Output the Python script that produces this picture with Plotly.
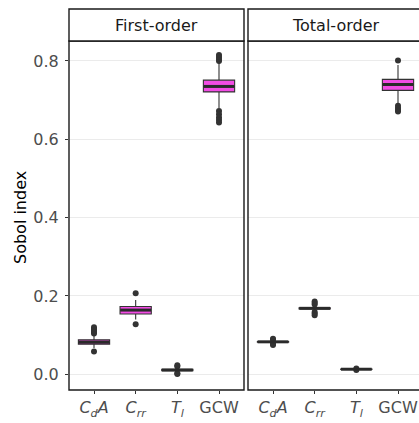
import plotly.graph_objects as go

# ---------------- data ----------------
categories = ["C_dA", "C_rr", "T_l", "GCW"]
tick_labels = ["<i>C<sub>d</sub>A</i>", "<i>C<sub>rr</sub></i>", "<i>T<sub>l</sub></i>", "GCW"]
positions = [1, 2, 3, 4]

first_q1 = [0.077, 0.154, 0.009, 0.721]
first_median = [0.082, 0.164, 0.011, 0.735]
first_q3 = [0.088, 0.173, 0.013, 0.751]
first_lower = [0.067, 0.140, 0.005, 0.680]
first_upper = [0.100, 0.190, 0.017, 0.796]
first_out_pos = [1, 1, 1, 1, 1, 1, 2, 2, 3, 3, 3, 3,
                 4, 4, 4, 4, 4, 4, 4, 4, 4]
first_out_val = [0.104, 0.108, 0.112, 0.116, 0.120, 0.058, 0.207, 0.128, 0.020, 0.023, 0.001, 0.003,
                 0.800, 0.805, 0.810, 0.815, 0.672, 0.664, 0.656, 0.649, 0.643]

total_q1 = [0.082, 0.167, 0.0125, 0.725]
total_median = [0.083, 0.1685, 0.013, 0.740]
total_q3 = [0.084, 0.170, 0.0135, 0.753]
total_lower = [0.079, 0.163, 0.012, 0.690]
total_upper = [0.087, 0.174, 0.014, 0.790]
total_out_pos = [1, 1, 1, 1, 2, 2, 2, 2, 2, 2, 3, 3, 4, 4, 4, 4, 4]
total_out_val = [0.088, 0.091, 0.078, 0.075, 0.178, 0.182, 0.186, 0.159, 0.155, 0.151,
                 0.011, 0.015, 0.801, 0.686, 0.680, 0.675, 0.671]

panel_titles = ["First-order", "Total-order"]
y_ticks = [0.0, 0.2, 0.4, 0.6, 0.8]

# ---------------- styling ----------------
FILL = "#F24CE4"
DARK = "#333333"
FONT = "DejaVu Sans"
W, H = 419, 423
ML, MT, MB = 69, 41, 33
PW = W - ML            # plot area width in px
PH = H - MT - MB       # plot area height in px


def px_x(px):
    return (px - ML) / PW


def px_y(py):
    return (H - MB - py) / PH


fig = go.Figure()

panels = [
    ("x", "y", first_q1, first_median, first_q3, first_lower, first_upper, first_out_pos, first_out_val),
    ("x2", "y2", total_q1, total_median, total_q3, total_lower, total_upper, total_out_pos, total_out_val),
]

for xa, ya, q1, med, q3, lo, hi, opos, oval in panels:
    fig.add_trace(go.Scatter(
        x=opos, y=oval, mode="markers", xaxis=xa, yaxis=ya,
        marker=dict(size=6, color=DARK), showlegend=False, hoverinfo="skip"))
    fig.add_trace(go.Box(
        x=positions, q1=q1, median=med, q3=q3, lowerfence=lo, upperfence=hi,
        xaxis=xa, yaxis=ya, width=0.75, whiskerwidth=0, boxpoints=False,
        fillcolor=FILL, line=dict(color=DARK, width=1.1), showlegend=False))
    fig.add_trace(go.Scatter(
        x=positions, y=med, mode="markers", xaxis=xa, yaxis=ya,
        marker=dict(symbol="line-ew", size=22, line=dict(width=3, color="#2A2A2A")),
        showlegend=False, hoverinfo="skip"))

unit = 175 / 4.2  # px per category unit
left_dom = [0, px_x(244)]
right_dom = [px_x(248), 1]
right_end = 0.4 + (W - 248) / unit

common_x = dict(
    tickmode="array", tickvals=positions, ticktext=tick_labels,
    tickfont=dict(family=FONT, size=16, color="#4D4D4D"),
    ticks="outside", ticklen=3, tickcolor=DARK, tickwidth=1,
    showgrid=False, zeroline=False, showline=False, anchor="y")
common_y = dict(
    range=[-0.040, 0.851], tickmode="array", tickvals=y_ticks,
    ticktext=[f"{v:.1f}" for v in y_ticks],
    showgrid=True, gridcolor="#EBEBEB", gridwidth=1, zeroline=False, showline=False)

fig.update_layout(
    width=W, height=H,
    margin=dict(l=ML, r=0, t=MT, b=MB, pad=0),
    paper_bgcolor="white", plot_bgcolor="white",
    font=dict(family=FONT),
    xaxis=dict(domain=left_dom, range=[0.4, 4.6], **common_x),
    xaxis2=dict(domain=right_dom, range=[0.4, right_end], **{**common_x, "anchor": "y2"}),
    yaxis=dict(domain=[0, 1], anchor="x",
               tickfont=dict(family=FONT, size=16, color="#4D4D4D"),
               ticks="outside", ticklen=3, tickcolor=DARK, tickwidth=1,
               ticklabelstandoff=3, **common_y),
    yaxis2=dict(domain=[0, 1], anchor="x2", matches="y", showticklabels=False,
                ticks="", **common_y),
)

shapes = []
strip_top = px_y(9)
for (x0, x1) in [(0, px_x(244)), (px_x(248), px_x(423))]:
    shapes.append(dict(type="rect", xref="paper", yref="paper", x0=x0, x1=x1, y0=0, y1=1,
                       line=dict(color="#1A1A1A", width=1.4), fillcolor="rgba(0,0,0,0)", layer="above"))
    shapes.append(dict(type="rect", xref="paper", yref="paper", x0=x0, x1=x1, y0=1, y1=strip_top,
                       line=dict(color="#1A1A1A", width=1.4), fillcolor="white", layer="above"))
fig.update_layout(shapes=shapes)

annotations = []
for title, (a, b) in zip(panel_titles, [(69, 244), (248, 423)]):
    annotations.append(dict(text=title, xref="paper", yref="paper",
                            x=px_x((a + b) / 2), y=(1 + strip_top) / 2,
                            xanchor="center", yanchor="middle", showarrow=False,
                            font=dict(family=FONT, size=16, color="#1A1A1A")))
annotations.append(dict(text="Sobol index", xref="paper", yref="paper",
                        x=px_x(20), y=px_y(217), textangle=-90,
                        xanchor="center", yanchor="middle", showarrow=False,
                        font=dict(family=FONT, size=16, color="black")))
fig.update_layout(annotations=annotations)

fig.write_html("out.html")
